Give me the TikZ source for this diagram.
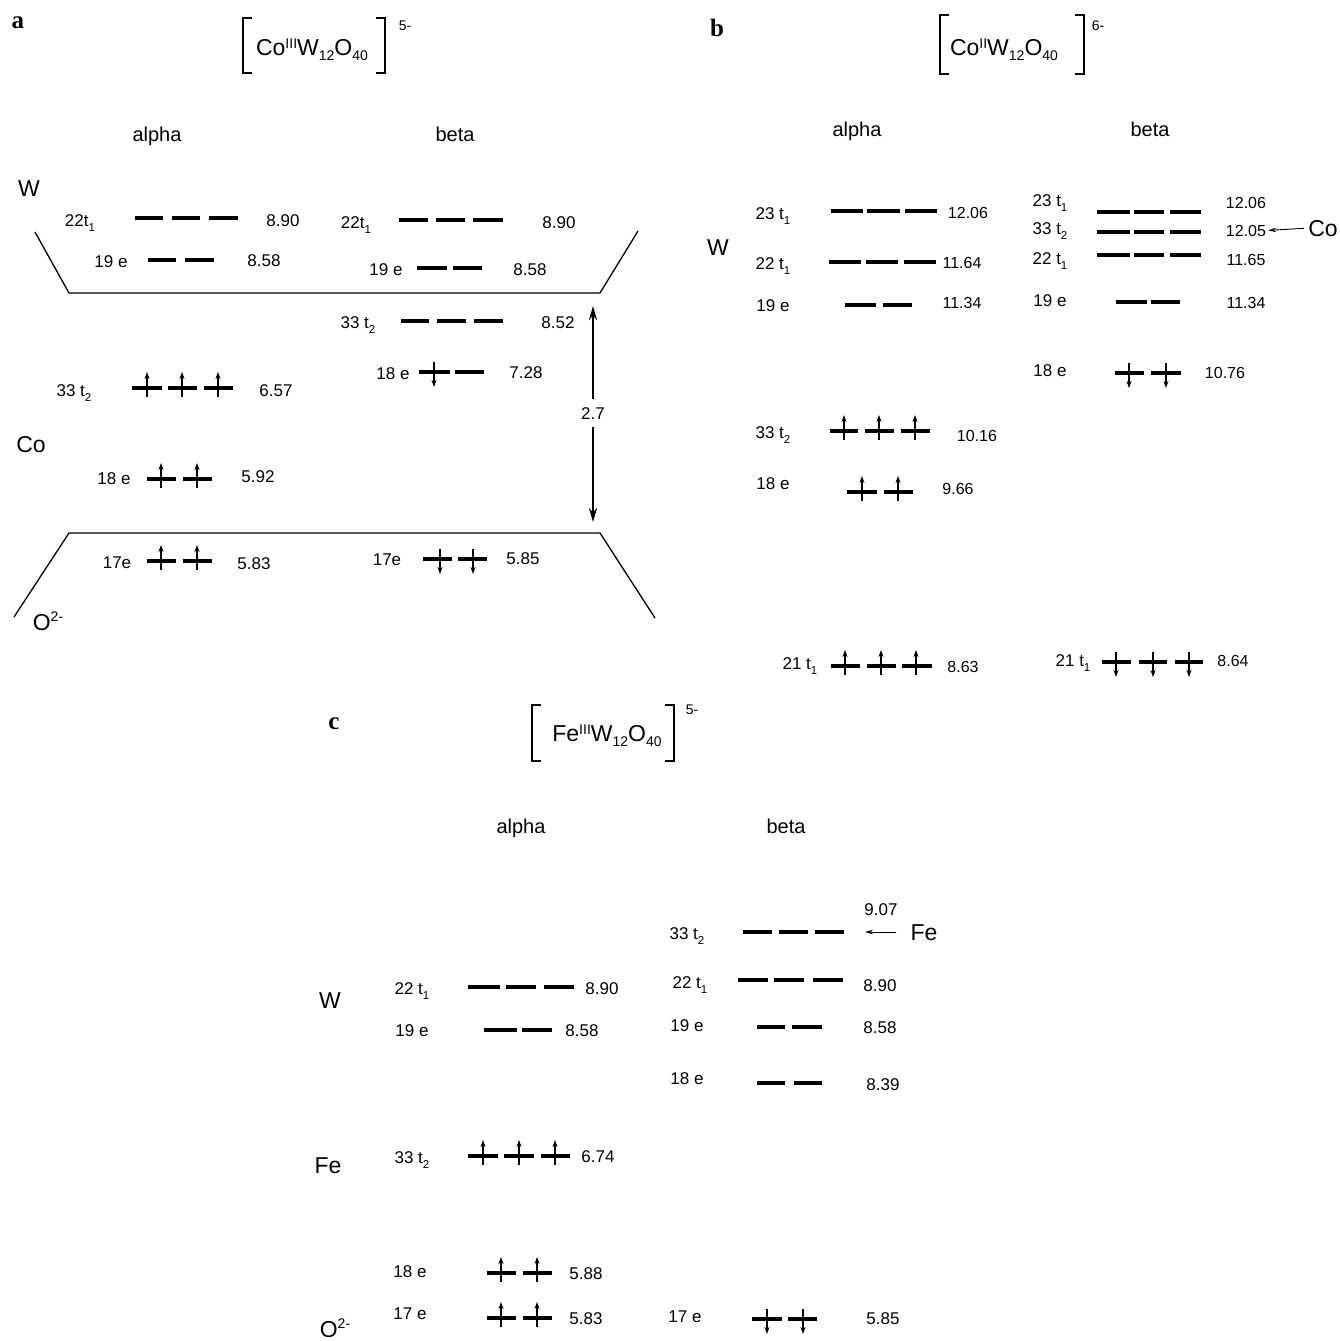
\documentclass[tikz,border=0pt]{standalone}
\usepackage{fontspec}
\setmainfont{Liberation Sans}
\newfontfamily\panelfont{Liberation Serif}
\usetikzlibrary{arrows.meta}
\newcommand\subl[1]{\raisebox{-5pt}{\fontsize{11.5}{11.5}\selectfont #1}}
\newcommand\supx[1]{\raisebox{6.5pt}{\fontsize{14}{14}\selectfont #1}}
\newcommand\subx[1]{\raisebox{-5pt}{\fontsize{14}{14}\selectfont #1}}
\newcommand\supo[1]{\raisebox{9pt}{\fontsize{14}{14}\selectfont #1}}
\newcommand\mytx[5]{\node[#1] (#2) at (#3,#4) {#5};}
\newcommand\mylv[2]{\foreach \p/\q in {#2} {\draw[lev] (\p,#1) -- (\q,#1);}}
\newcommand\myup[2]{\draw[spin] (#1,{#2+9}) -- (#1,{#2-16});}
\newcommand\mydn[2]{\draw[spin] (#1,{#2-10}) -- (#1,{#2+15});}
\newcommand\mybrk[4]{% x-left, x-right, y-top, y-bottom
  \draw[brk] ({#1+9},#3) -- (#1,#3) -- (#1,#4) -- ({#1+9},#4);
  \draw[brk] ({#2-9},#3) -- (#2,#3) -- (#2,#4) -- ({#2-9},#4);}
\begin{document}
\begin{tikzpicture}[x=1pt,y=-1pt,
  every node/.style={inner sep=0pt,anchor=base},
  pl/.style={font=\panelfont\bfseries\fontsize{25}{27}\selectfont,yshift=-6pt},
  form/.style={font=\fontsize{23}{25}\selectfont,yshift=-8pt},
  chg/.style={font=\fontsize{14}{16}\selectfont,yshift=-5pt},
  hd/.style={font=\fontsize{20}{22}\selectfont,yshift=-6pt},
  big/.style={font=\fontsize{23}{25}\selectfont,yshift=-8pt},
  lb/.style={font=\fontsize{17}{19}\selectfont,yshift=-6pt},
  vl/.style={font=\fontsize{17}{19}\selectfont,yshift=-6pt},
  lbB/.style={font=\fontsize{17}{19}\selectfont,yshift=-6pt},
  vlB/.style={font=\fontsize{16}{18}\selectfont,yshift=-6pt},
  lev/.style={line width=4pt},
  spin/.style={line width=1.1pt,-{Stealth[length=7pt,width=5pt]}},
  brk/.style={line width=2pt},
  trap/.style={line width=1.3pt,line join=miter},
  gapar/.style={line width=2.6pt,-{Stealth[length=14pt,width=8pt]}},
  ptr/.style={line width=0.9pt,-{Stealth[length=8pt,width=4.5pt]}}]
\path[use as bounding box,fill=white] (0,0) rectangle (1340,1341);

% ================= panel a =================
\mytx{pl}{pa}{18}{22}{a}
\mybrk{243}{385}{18}{73}
\mytx{form}{fa}{312}{47}{Co\supx{III}W\subx{12}O\subx{40}}
\mytx{chg}{qa}{405}{25}{5-}
\mytx{hd}{aal}{157}{135}{alpha}
\mytx{hd}{abe}{455}{135}{beta}
\mytx{big}{aW}{29}{188}{W}
\mytx{big}{aCo}{31}{444}{Co}
\mytx{big}{aO}{48}{622}{O\supo{2-}}
\draw[trap] (35,232) -- (69,293) -- (600,293) -- (638,231);
\draw[trap] (14,617) -- (69,533) -- (600,533) -- (655,618);
% alpha
\mytx{lb}{a22l}{80}{220}{22t\subl{1}}
\mylv{218}{135/163,172/200,209/238}
\mytx{vl}{a22v}{283}{220}{8.90}
\mytx{lb}{a19l}{111}{261}{19 e}
\mylv{260}{148/176,185/214}
\mytx{vl}{a19v}{264}{260}{8.58}
\mytx{lb}{a33l}{74}{390}{33 t\subl{2}}
\mylv{388}{132/162,168/197,204/233}
\myup{147}{388}\myup{182}{388}\myup{218}{388}
\mytx{vl}{a33v}{276}{390}{6.57}
\mytx{lb}{a18l}{114}{478}{18 e}
\mylv{479}{147/176,183/212}
\myup{161}{479}\myup{197}{479}
\mytx{vl}{a18v}{258}{476}{5.92}
\mytx{lb}{a17l}{117}{562}{17e}
\mylv{561}{147/176,183/212}
\myup{161}{561}\myup{197}{561}
\mytx{vl}{a17v}{254}{563}{5.83}
% beta
\mytx{lb}{b22l}{356}{222}{22t\subl{1}}
\mylv{220}{399/428,436/465,473/503}
\mytx{vl}{b22v}{559}{222}{8.90}
\mytx{lb}{b19l}{386}{269}{19 e}
\mylv{268}{417/447,453/482}
\mytx{vl}{b19v}{530}{269}{8.58}
\mytx{lb}{b33l}{358}{322}{33 t\subl{2}}
\mylv{321}{401/429,437/466,474/503}
\mytx{vl}{b33v}{558}{322}{8.52}
\mytx{lb}{b18l}{393}{373}{18 e}
\mylv{372}{419/450,455/484}
\mydn{434}{372}
\mytx{vl}{b18v}{526}{372}{7.28}
\mytx{lb}{b17l}{387}{559}{17e}
\mylv{559}{423/452,458/487}
\mydn{440}{559}\mydn{473}{559}
\mytx{vl}{b17v}{523}{558}{5.85}
% gap arrow
\coordinate (gtop) at (593,306);
\coordinate (gbot) at (593,522);
\mytx{vl}{gap}{593}{413}{2.7}
\draw[gapar,shorten <=8pt] (gap.north) -- (gtop);
\draw[gapar,shorten <=8pt] (gap.south) -- (gbot);

% ================= panel b =================
\mytx{pl}{pb}{717}{30}{b}
\mybrk{940}{1084}{15}{74}
\mytx{form}{fb}{1004}{47}{Co\supx{II}W\subx{12}O\subx{40}}
\mytx{chg}{qb}{1098}{25}{6-}
\mytx{hd}{bal}{857}{130}{alpha}
\mytx{hd}{bbe}{1150}{130}{beta}
\mytx{big}{bW}{718}{247}{W}
% alpha
\mytx{lbB}{c23l}{773}{213}{23 t\subl{1}}
\mylv{211}{831/863,867/900,905/937}
\mytx{vlB}{c23v}{968}{212}{12.06}
\mytx{lbB}{c22l}{773}{263}{22 t\subl{1}}
\mylv{262}{829/861,866/898,904/936}
\mytx{vlB}{c22v}{962}{262}{11.64}
\mytx{lbB}{c19l}{773}{305}{19 e}
\mylv{305}{845/876,883/912}
\mytx{vlB}{c19v}{962}{302}{11.34}
\mytx{lbB}{c33l}{773}{432}{33 t\subl{2}}
\mylv{431}{830/858,865/894,901/930}
\myup{844}{431}\myup{879}{431}\myup{915}{431}
\mytx{vlB}{c33v}{977}{435}{10.16}
\mytx{lbB}{c18l}{773}{483}{18 e}
\mylv{492}{847/877,884/913}
\myup{862}{492}\myup{898}{492}
\mytx{vlB}{c18v}{958}{488}{9.66}
\mytx{lbB}{c21l}{800}{663}{21 t\subl{1}}
\mylv{666}{831/860,867/896,902/932}
\myup{845}{666}\myup{881}{666}\myup{916}{666}
\mytx{vlB}{c21v}{963}{666}{8.63}
% beta
\mytx{lbB}{d23l}{1050}{200}{23 t\subl{1}}
\mylv{212}{1097/1130,1134/1164,1170/1201}
\mytx{vlB}{d23v}{1246}{202}{12.06}
\mytx{lbB}{d33l}{1050}{228}{33 t\subl{2}}
\mylv{232}{1097/1130,1134/1164,1170/1201}
\mytx{vlB}{d33v}{1246}{230}{12.05}
\mytx{lbB}{d22l}{1050}{258}{22 t\subl{1}}
\mylv{255}{1097/1130,1134/1164,1170/1201}
\mytx{vlB}{d22v}{1246}{259}{11.65}
\mytx{lbB}{d19l}{1050}{300}{19 e}
\mylv{302}{1116/1147,1151/1180}
\mytx{vlB}{d19v}{1246}{302}{11.34}
\mytx{lbB}{d18l}{1050}{370}{18 e}
\mylv{373}{1115/1144,1151/1181}
\mydn{1129}{373}\mydn{1166}{373}
\mytx{vlB}{d18v}{1225}{372}{10.76}
\mytx{lbB}{d21l}{1073}{660}{21 t\subl{1}}
\mylv{662}{1102/1131,1139/1167,1175/1203}
\mydn{1116}{662}\mydn{1153}{662}\mydn{1189}{662}
\mytx{vlB}{d21v}{1233}{660}{8.64}
\mytx{big}{bCo}{1323}{228}{Co}
\draw[ptr,shorten <=4pt,shorten >=2pt] (bCo.west) -- (d33v.east);

% ================= panel c =================
\mytx{pl}{pc}{334}{723}{c}
\mybrk{532}{674}{705}{761}
\mytx{form}{fc}{607}{733}{Fe\supx{III}W\subx{12}O\subx{40}}
\mytx{chg}{qc}{692}{709}{5-}
\mytx{hd}{cal}{521}{827}{alpha}
\mytx{hd}{cbe}{786}{827}{beta}
\mytx{big}{cW}{330}{1000}{W}
\mytx{big}{cFe}{328}{1165}{Fe}
\mytx{big}{cO}{335}{1329}{O\supo{2-}}
% alpha
\mytx{lb}{e22l}{412}{988}{22 t\subl{1}}
\mylv{987}{468/500,506/536,544/574}
\mytx{vl}{e22v}{602}{988}{8.90}
\mytx{lb}{e19l}{412}{1030}{19 e}
\mylv{1030}{484/517,522/552}
\mytx{vl}{e19v}{582}{1030}{8.58}
\mytx{lb}{e33l}{412}{1157}{33 t\subl{2}}
\mylv{1156}{468/498,504/534,541/570}
\myup{483}{1156}\myup{519}{1156}\myup{555}{1156}
\mytx{vl}{e33v}{598}{1156}{6.74}
\mytx{lb}{e18l}{410}{1271}{18 e}
\mylv{1273}{487/516,523/552}
\myup{501}{1273}\myup{537}{1273}
\mytx{vl}{e18v}{586}{1273}{5.88}
\mytx{lb}{e17l}{410}{1313}{17 e}
\mylv{1318}{487/516,523/552}
\myup{501}{1318}\myup{537}{1318}
\mytx{vl}{e17v}{586}{1318}{5.83}
% beta
\mytx{lb}{f33l}{687}{933}{33 t\subl{2}}
\mylv{932}{743/772,779/808,815/844}
\mytx{vl}{f33v}{881}{909}{9.07}
\mytx{big}{cFe2}{924}{932}{Fe}
\coordinate (fetip) at (865,932);
\draw[ptr,shorten <=14pt] (cFe2.west |- fetip) -- (fetip);
\mytx{lb}{f22l}{690}{982}{22 t\subl{1}}
\mylv{980}{738/768,774/804,813/843}
\mytx{vl}{f22v}{880}{985}{8.90}
\mytx{lb}{f19l}{687}{1025}{19 e}
\mylv{1027}{757/785,792/822}
\mytx{vl}{f19v}{880}{1027}{8.58}
\mytx{lb}{f18l}{687}{1078}{18 e}
\mylv{1083}{757/785,794/822}
\mytx{vl}{f18v}{883}{1084}{8.39}
\mytx{lb}{f17l}{685}{1316}{17 e}
\mylv{1319}{752/782,788/817}
\mydn{767}{1319}\mydn{803}{1319}
\mytx{vl}{f17v}{883}{1318}{5.85}
\end{tikzpicture}
\end{document}
